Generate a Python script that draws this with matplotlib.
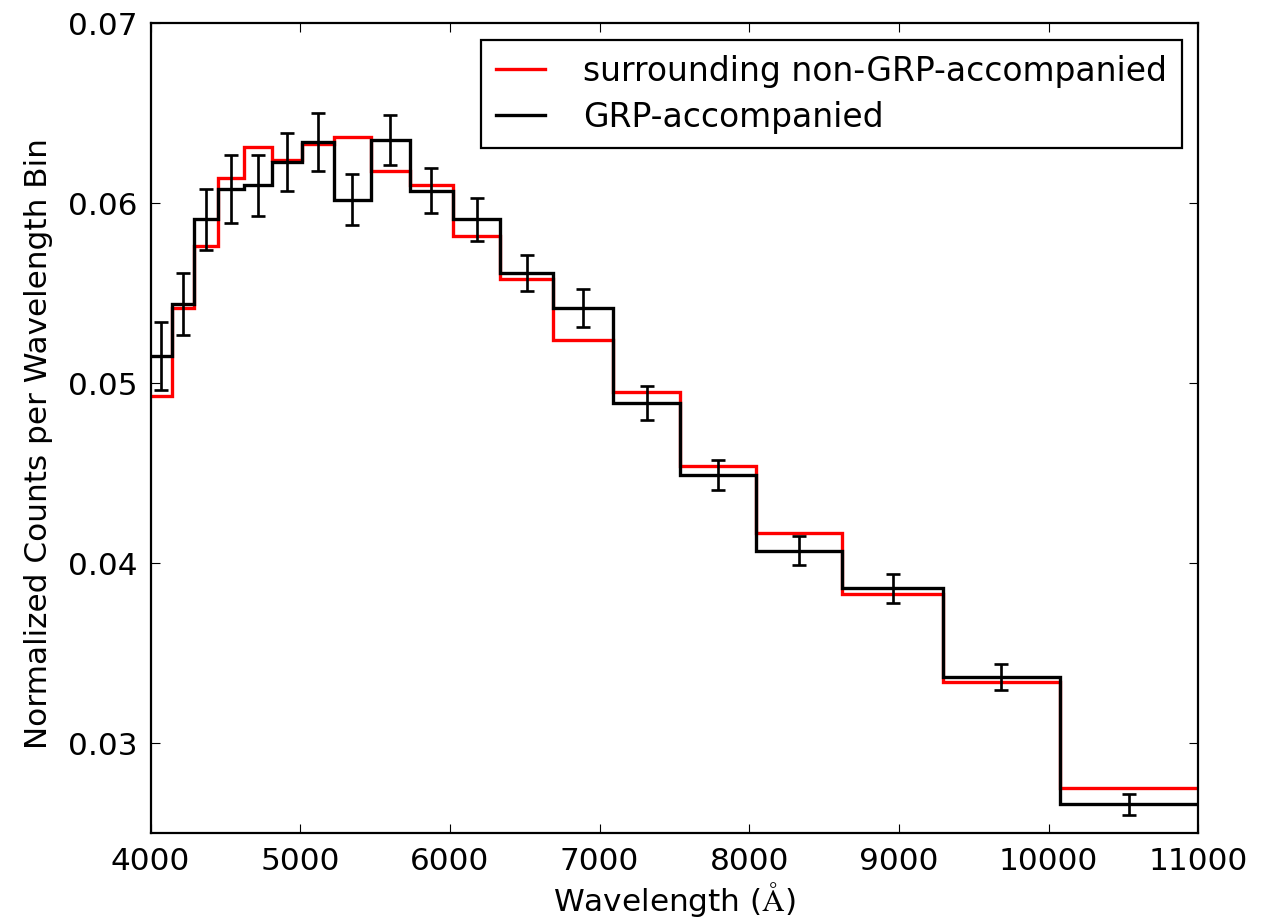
import numpy as np
import matplotlib
matplotlib.use("Agg")
import matplotlib.pyplot as plt

# bin edges in Angstrom
edges = [4000, 4145, 4289, 4450, 4625, 4813, 5013, 5224, 5470, 5732, 6022,
         6338, 6692, 7091, 7537, 8048, 8622, 9292, 10074, 11000]

# normalized counts per bin
grp = [0.0515, 0.0544, 0.0591, 0.0608, 0.0610, 0.0623, 0.0634, 0.0602,
       0.0635, 0.0607, 0.0591, 0.0561, 0.0542, 0.0489, 0.0449, 0.0407,
       0.0386, 0.0337, 0.0266]
grp_err = [0.0019, 0.0017, 0.0017, 0.0019, 0.0017, 0.0016, 0.0016, 0.0014,
           0.0014, 0.00126, 0.0012, 0.0010, 0.00106, 0.00094, 0.00085,
           0.0008, 0.0008, 0.00072, 0.00056]
non_grp = [0.0493, 0.0542, 0.0576, 0.0614, 0.0631, 0.0624, 0.0633, 0.0637,
           0.0618, 0.0610, 0.0582, 0.0558, 0.0524, 0.0495, 0.0454, 0.0417,
           0.0383, 0.0334, 0.0275]

plt.rcParams.update({
    "font.family": ["DejaVu Sans"],
    "font.size": 14,
    "mathtext.fontset": "cm",
    "axes.linewidth": 1.0,
    "xtick.direction": "in",
    "ytick.direction": "in",
    "xtick.top": True,
    "ytick.right": True,
    "xtick.major.size": 4,
    "ytick.major.size": 4,
    "xtick.major.width": 0.5,
    "ytick.major.width": 0.5,
    "xtick.major.pad": 6,
    "ytick.major.pad": 6,
})

fig = plt.figure(figsize=(8, 923 / 160), dpi=160)
ax = fig.add_axes([0.1176, 0.0972, 0.8186, 0.8776])

centers = 0.5 * (np.array(edges[:-1]) + np.array(edges[1:]))

ax.stairs(non_grp, edges, baseline=None, color="red", lw=1.5,
          label="surrounding non-GRP-accompanied")
ax.stairs(grp, edges, baseline=None, color="black", lw=1.5,
          label="GRP-accompanied")
ax.errorbar(centers, grp, yerr=grp_err, fmt="none", ecolor="black",
            elinewidth=1.2, capsize=3, capthick=1.2)

ax.set_xlim(4000, 11000)
ax.set_ylim(0.025, 0.07)
ax.set_xticks(np.arange(4000, 11001, 1000))
ax.set_yticks([0.03, 0.04, 0.05, 0.06, 0.07])
ax.set_yticklabels(["0.03", "0.04", "0.05", "0.06", "0.07"])

ax.set_xlabel(r"Wavelength ($\mathrm{\AA}$)", labelpad=2)
ax.set_ylabel("Normalized Counts per Wavelength Bin")
ax.yaxis.set_label_coords(-0.093, 0.481)

leg = ax.legend(loc="upper right", fontsize=14.8, fancybox=False,
                framealpha=1, edgecolor="black", handlelength=1.5,
                handletextpad=1.15, labelspacing=0.4, borderpad=0.45,
                borderaxespad=0.5)
leg.get_frame().set_linewidth(1.0)

fig.savefig("out.png", dpi=160, facecolor="white")
